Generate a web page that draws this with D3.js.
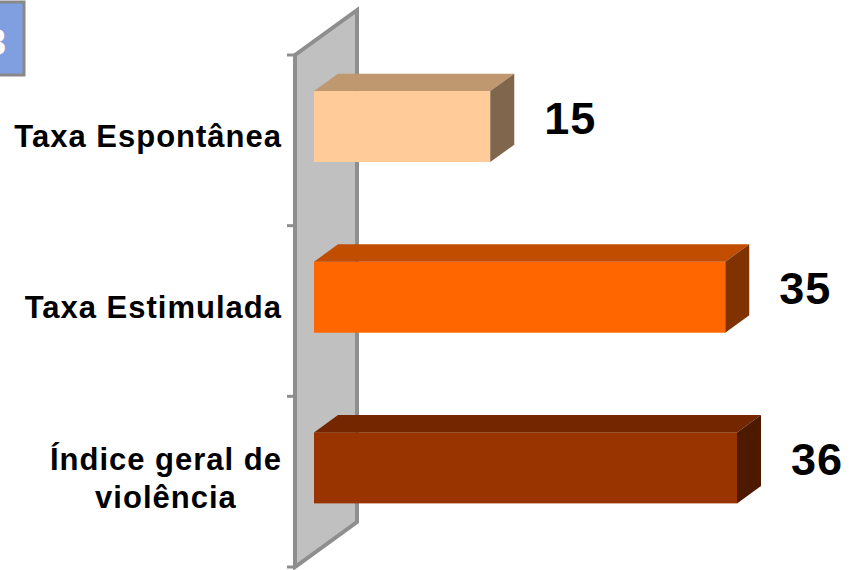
<!DOCTYPE html>
<html>
<head>
<meta charset="utf-8">
<script src="https://cdn.jsdelivr.net/npm/d3@7"></script>
<style>
  body { margin: 0; background: #fff; }
  svg { display: block; font-family: Arial, "Liberation Sans", sans-serif; }
</style>
</head>
<body>
<div id="chart"></div>
<script>
const categories = ["Taxa Espontânea", "Taxa Estimulada", "Índice geral de violência"];
const values = [15, 35, 36];
const maxValue = 40;
const badgeText = "3";

// front, top, side colours per bar
const palette = [
  ["#FFCC99", "#C09870", "#80664C"],
  ["#FF6600", "#C04D00", "#803300"],
  ["#993300", "#732600", "#4D1A00"]
];

const width = 852, height = 570;
const svg = d3.select("#chart").append("svg")
  .attr("width", width)
  .attr("height", height);

// 3d geometry
let wallX = 295, wallTop = 55, wallBottom = 567;
let depth = 62, slope = 0.725;
let barFront = 19, barBack = 43;

let x = d3.scaleLinear().domain([0, maxValue]).range([wallX + barFront, wallX + barFront + 470]);
let y = d3.scaleBand().domain(categories).range([wallTop, wallBottom])
  .paddingInner(0.584).paddingOuter(0.292);

// side wall
svg.append("polygon")
  .attr("points", [
    [wallX, wallTop], [wallX + depth, wallTop - depth * slope],
    [wallX + depth, wallBottom - depth * slope], [wallX, wallBottom]
  ].join(" "))
  .attr("fill", "#C0C0C0")
  .attr("stroke", "#8E8E8E")
  .attr("stroke-width", 4);

// ticks at the band edges
svg.append("g").selectAll("line")
  .data(d3.range(categories.length + 1))
  .enter().append("line")
  .attr("x1", wallX - 8).attr("x2", wallX)
  .attr("y1", i => wallTop + i * y.step())
  .attr("y2", i => wallTop + i * y.step())
  .attr("stroke", "#8E8E8E")
  .attr("stroke-width", 3);

let dd = barBack - barFront, dy = dd * slope;
let bars = svg.append("g").selectAll("g")
  .data(values.map((v, i) => ({ v: v, c: categories[i], i: i })))
  .enter().append("g");

const barTop = d => y(d.c) - barFront * slope;

bars.append("rect")
  .attr("x", x(0))
  .attr("y", d => barTop(d))
  .attr("width", d => x(d.v) - x(0))
  .attr("height", y.bandwidth())
  .attr("fill", d => palette[d.i][0]);

bars.append("polygon")
  .attr("points", d => {
    let t = barTop(d), x0 = x(0), x1 = x(d.v);
    return [[x0, t], [x1, t], [x1 + dd, t - dy], [x0 + dd, t - dy]].join(" ");
  })
  .attr("fill", d => palette[d.i][1]);

bars.append("polygon")
  .attr("points", d => {
    let t = barTop(d), b = t + y.bandwidth(), x1 = x(d.v);
    return [[x1, t], [x1 + dd, t - dy], [x1 + dd, b - dy], [x1, b]].join(" ");
  })
  .attr("fill", d => palette[d.i][2]);

// value labels
bars.append("text")
  .attr("x", d => x(d.v) + dd + 30)
  .attr("y", d => barTop(d) + y.bandwidth() / 2 + 7)
  .attr("font-size", 45)
  .attr("font-weight", "bold")
  .attr("letter-spacing", 1)
  .attr("fill", "#000")
  .text(d => d.v);

// category labels, wrapped when too wide
let labels = svg.append("g").selectAll("text")
  .data(categories)
  .enter().append("text")
  .attr("font-size", 31)
  .attr("font-weight", "bold")
  .attr("letter-spacing", 1)
  .attr("text-anchor", "middle")
  .attr("fill", "#000");

labels.each(function(c) {
  let el = d3.select(this);
  let words = c.split(" "), lines = [], line = [];
  words.forEach(w => {
    line.push(w);
    el.text(line.join(" "));
    if (this.getComputedTextLength() > 275 && line.length > 1) {
      line.pop();
      lines.push(line.join(" "));
      line = [w];
    }
  });
  lines.push(line.join(" "));
  // block width for right alignment
  let widths = lines.map(l => { el.text(l); return this.getComputedTextLength(); });
  el.text(null);
  let blockW = d3.max(widths);
  let cx = 282 - blockW / 2;
  let cy = y(c) + y.bandwidth() / 2;
  lines.forEach((l, k) => {
    el.append("tspan")
      .attr("x", cx)
      .attr("y", cy + 7 + (k - (lines.length - 1) / 2) * 38)
      .text(l);
  });
});

// badge in the top left corner
svg.append("rect")
  .attr("x", -10).attr("y", 2)
  .attr("width", 34).attr("height", 73)
  .attr("fill", "#7F9FE0")
  .attr("stroke", "#888")
  .attr("stroke-width", 3);
svg.append("text")
  .attr("x", 6).attr("y", 55)
  .attr("text-anchor", "end")
  .attr("font-size", 36)
  .attr("font-weight", "bold")
  .attr("fill", "#fff")
  .text(badgeText);
</script>
</body>
</html>
